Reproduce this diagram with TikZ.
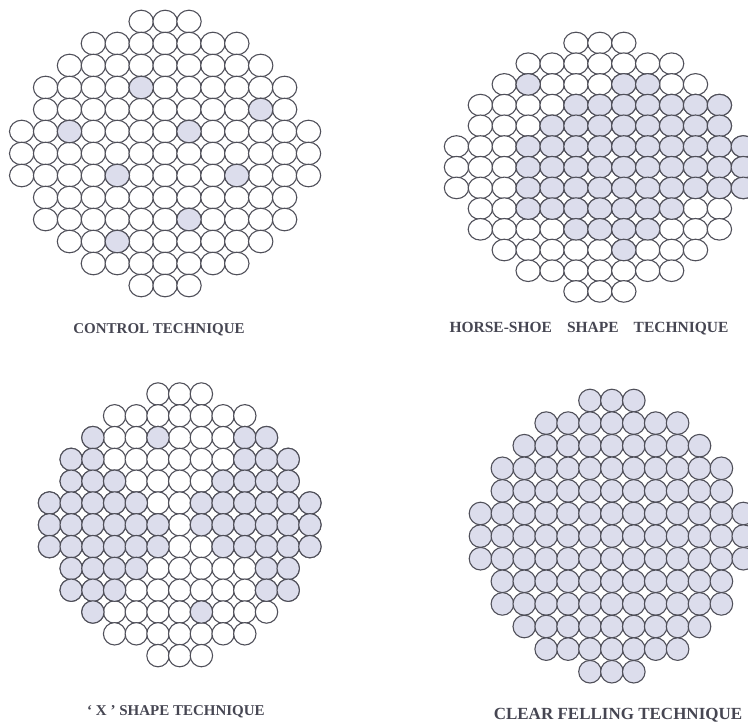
\documentclass[tikz,border=0pt]{standalone}
\usepackage{fontspec}
\setmainfont{Liberation Serif}
\usepackage{tikz}
\usetikzlibrary{shapes.geometric,positioning}

\definecolor{rim}{RGB}{80,80,90}
\definecolor{felled}{RGB}{220,221,236}
\definecolor{ink}{RGB}{70,70,82}

\begin{document}
\begin{tikzpicture}[x=1pt,y=-1pt]
\tikzstyle{tree} = [ellipse, draw=rim, line width=1.1pt, fill=white, inner sep=0pt]
\tikzstyle{cut} = [tree, fill=felled]
\tikzstyle{caption} = [font=\bfseries, text=ink, inner sep=0pt]
% row / first column / last column of the stand
\def\stand{0/5/7,1/3/9,2/2/10,3/1/11,4/1/11,5/0/12,6/0/12,7/0/12,8/1/11,9/1/11,10/2/10,11/3/9,12/5/7}

\useasboundingbox (0,0) rectangle (748,726);

% control
\begin{scope}[shift={(21.7,21.5)},x=23.9pt,y=-22pt,every node/.append style={minimum width=24.4pt,minimum height=22.6pt}]
	\foreach \r/\a/\b in \stand
		\foreach \c in {\a,...,\b}
			\node [tree] (ctl-\r-\c) at (\c,\r) {};
	\foreach \r/\c in {3/5,4/10,5/2,5/7,7/4,7/9,9/7,10/4}
		\node [cut] (ctl-\r-\c) at (\c,\r) {};
\end{scope}

% horse-shoe
\begin{scope}[shift={(456.5,43)},x=23.9pt,y=-20.7pt,every node/.append style={minimum width=24.4pt,minimum height=21.6pt}]
	\foreach \r/\a/\b in \stand
		\foreach \c in {\a,...,\b}
			\node [tree] (hs-\r-\c) at (\c,\r) {};
	\foreach \r/\a/\b in {2/3/3,2/7/8,3/5/11,4/4/11,5/3/12,6/3/12,7/3/12,8/3/9,9/5/8,10/7/7}
		\foreach \c in {\a,...,\b}
			\node [cut] (hs-\r-\c) at (\c,\r) {};
\end{scope}

% x shape
\begin{scope}[shift={(49.5,394)},x=21.7pt,y=-21.8pt,every node/.append style={minimum width=22.4pt,minimum height=22.4pt}]
	\foreach \r/\a/\b in \stand
		\foreach \c in {\a,...,\b}
			\node [tree] (xs-\r-\c) at (\c,\r) {};
	\foreach \r/\a/\b in {2/2/2,2/5/5,2/9/10,3/1/2,3/9/11,4/1/3,4/8/11,5/0/4,5/7/12,6/0/5,6/7/12,7/0/5,7/8/12,8/1/4,8/10/11,9/1/3,9/10/11,10/2/2,10/7/7}
		\foreach \c in {\a,...,\b}
			\node [cut] (xs-\r-\c) at (\c,\r) {};
\end{scope}

% clear felling
\begin{scope}[shift={(480.5,400.5)},x=21.9pt,y=-22.6pt,every node/.append style={minimum width=22.6pt,minimum height=22.6pt}]
	\foreach \r/\a/\b in \stand
		\foreach \c in {\a,...,\b}
			\node [cut] (cf-\r-\c) at (\c,\r) {};
\end{scope}

\node [caption,font=\bfseries\fontsize{15}{17}\selectfont] (ctl) at (159,330) {CONTROL TECHNIQUE};
\node [caption,font=\bfseries\fontsize{15.5}{17}\selectfont] (hs) at (589,329) {HORSE-SHOE\hspace{15pt}SHAPE\hspace{15pt}TECHNIQUE};
\node [caption,font=\bfseries\fontsize{15}{17}\selectfont] (xs) at (176,712) {‘ X ’ SHAPE TECHNIQUE};
\node [caption,font=\bfseries\fontsize{17}{19}\selectfont] (cf) at (618,715) {CLEAR FELLING TECHNIQUE};
\end{tikzpicture}
\end{document}
